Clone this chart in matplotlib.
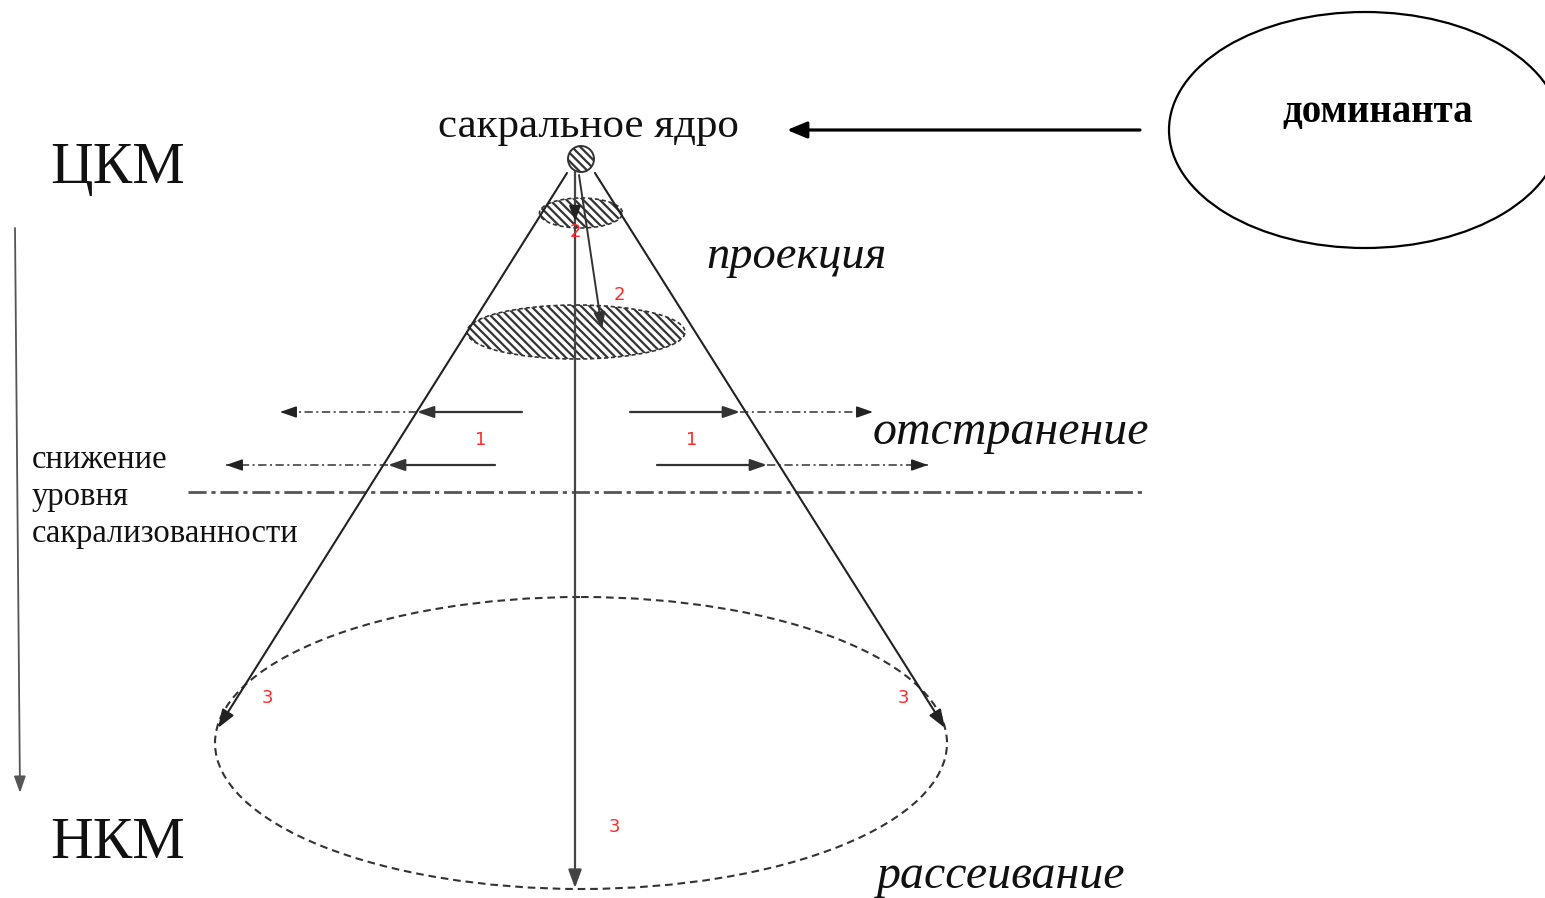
import matplotlib
matplotlib.use('Agg')
import matplotlib.pyplot as plt
from matplotlib.patches import Ellipse, Circle, FancyArrowPatch

plt.rcParams['font.family'] = ['Liberation Serif', 'DejaVu Serif']
plt.rcParams['lines.scale_dashes'] = False
plt.rcParams['hatch.linewidth'] = 1.6

# все координаты - в пикселях исходного рисунка (ось y вниз)
W, H = 1545, 898

# сакральное ядро и конус
core = (581, 159)
core_r = 13
cone_left = [(567, 173), (218, 728)]
cone_right = [(595, 173), (945, 728)]
axis_line = [(575, 172), (575, 888)]
slant = [(579, 175), (602, 329)]

# проекции (заштрихованные эллипсы): центр x, центр y, ширина, высота
proj_x = [581, 576]
proj_y = [213, 332]
proj_w = [83, 218]
proj_h = [30, 54]

# рассеивание
disp = (581, 743, 732, 292)

# отстранение: y, начало сплошной, конец сплошной, конец штрихпунктира
off_y = [412, 465, 412, 465]
off_a = [522, 495, 630, 657]
off_b = [417, 388, 740, 767]
off_c = [280, 226, 873, 928]

# граница уровня
level_y = 492
level_x = [188, 1145]

# красные номера
num_txt = ['2', '2', '1', '1', '3', '3', '3']
num_x = [575, 619, 481, 692, 267, 903, 614]
num_y = [232, 295, 440, 440, 698, 698, 827]

# доминанта
dom_ell = (1365, 130, 392, 236)
dom_arrow = [(1140, 130), (787, 130)]

fig = plt.figure(figsize=(W / 100, H / 100), dpi=100)
ax = fig.add_axes([0, 0, 1, 1])
ax.set_xlim(0, W)
ax.set_ylim(H, 0)
ax.axis('off')


def arrow(p0, p1, lw=1.4, color='#222222', hl=9, hw=3.5, z=3):
    ax.add_patch(FancyArrowPatch(p0, p1, arrowstyle=f'-|>,head_length={hl},head_width={hw}',
                                 mutation_scale=1, lw=lw, color=color,
                                 shrinkA=0, shrinkB=0, zorder=z))


def head(p0, p1, **kw):
    # только наконечник у конца p1
    dx, dy = p1[0] - p0[0], p1[1] - p0[1]
    d = (dx ** 2 + dy ** 2) ** 0.5
    q = (p1[0] - dx / d * 10, p1[1] - dy / d * 10)
    arrow(q, p1, **kw)


# эллипсы проекции
for cx, cy, w, h in zip(proj_x, proj_y, proj_w, proj_h):
    ax.add_patch(Ellipse((cx, cy), w, h, facecolor='white', edgecolor='#333333',
                         hatch='\\\\\\\\', lw=1.2, linestyle=(0, (3, 2)), zorder=2))

# эллипс рассеивания
ax.add_patch(Ellipse(disp[:2], disp[2], disp[3], fill=False, edgecolor='#333333',
                     lw=1.5, linestyle=(0, (5.5, 3.5)), zorder=2))

# линии конуса
arrow(cone_left[0], cone_left[1], lw=1.5, color='#222222', hl=11, hw=4)
arrow(cone_right[0], cone_right[1], lw=1.5, color='#222222', hl=11, hw=4)
arrow(axis_line[0], axis_line[1], lw=1.6, color='#444444', hl=11, hw=4)
head(axis_line[0], (575, 221), lw=1.4, color='#222222', hl=9, hw=3.5)
arrow(slant[0], slant[1], lw=1.4, color='#333333', hl=10, hw=3.5)

# ядро
ax.add_patch(Circle(core, core_r, facecolor='white', edgecolor='#333333',
                    hatch='\\\\\\\\', lw=1.4, zorder=4))

# отстранение
for y, a, b, c in zip(off_y, off_a, off_b, off_c):
    arrow((a, y), (b, y), lw=1.6, color='#333333', hl=10, hw=3.5)
    ax.plot([b, c], [y, y], color='#333333', lw=1.1, linestyle=(0, (6, 2.5, 1.5, 2.5)), zorder=2)
    head((b, y), (c, y), lw=1.1, color='#222222', hl=10, hw=3.5)

# граница уровня
ax.plot(level_x, [level_y, level_y], color='#555555', lw=2.0,
        linestyle=(0, (13, 3.5, 3, 3.5)), zorder=1)

# шкала слева
arrow((15, 228), (20, 793), lw=1.3, color='#555555', hl=10, hw=3.5)

# доминанта
ax.add_patch(Ellipse(dom_ell[:2], dom_ell[2], dom_ell[3], fill=False,
                     edgecolor='black', lw=1.6, zorder=2))
arrow(dom_arrow[0], dom_arrow[1], lw=2.3, color='black', hl=12, hw=5)

# номера
for t, x, y in zip(num_txt, num_x, num_y):
    ax.text(x, y, t, color='#ff2a2a', fontsize=13, family='DejaVu Sans',
            ha='center', va='center', zorder=5)

# подписи
tc = '#111111'
ax.text(50, 183, 'ЦКМ', fontsize=42.5, color=tc, va='baseline')
ax.text(50, 858, 'НКМ', fontsize=42.5, color=tc, va='baseline')
ax.text(438, 137, 'сакральное ядро', fontsize=31, color=tc, va='baseline')
ax.text(706, 268, 'проекция', fontsize=33.5, color=tc, va='baseline', style='italic')
ax.text(873, 444, 'отстранение', fontsize=34.5, color=tc, va='baseline', style='italic')
ax.text(877, 888, 'рассеивание', fontsize=34.5, color=tc, va='baseline', style='italic')
for i, s in enumerate(['снижение', 'уровня', 'сакрализованности']):
    ax.text(32, 468 + 37 * i, s, fontsize=23.5, color=tc, va='baseline')
ax.text(1282, 122, 'доминанта', fontsize=28, color='black', va='baseline', weight='bold')

fig.savefig('out.png', dpi=100)
